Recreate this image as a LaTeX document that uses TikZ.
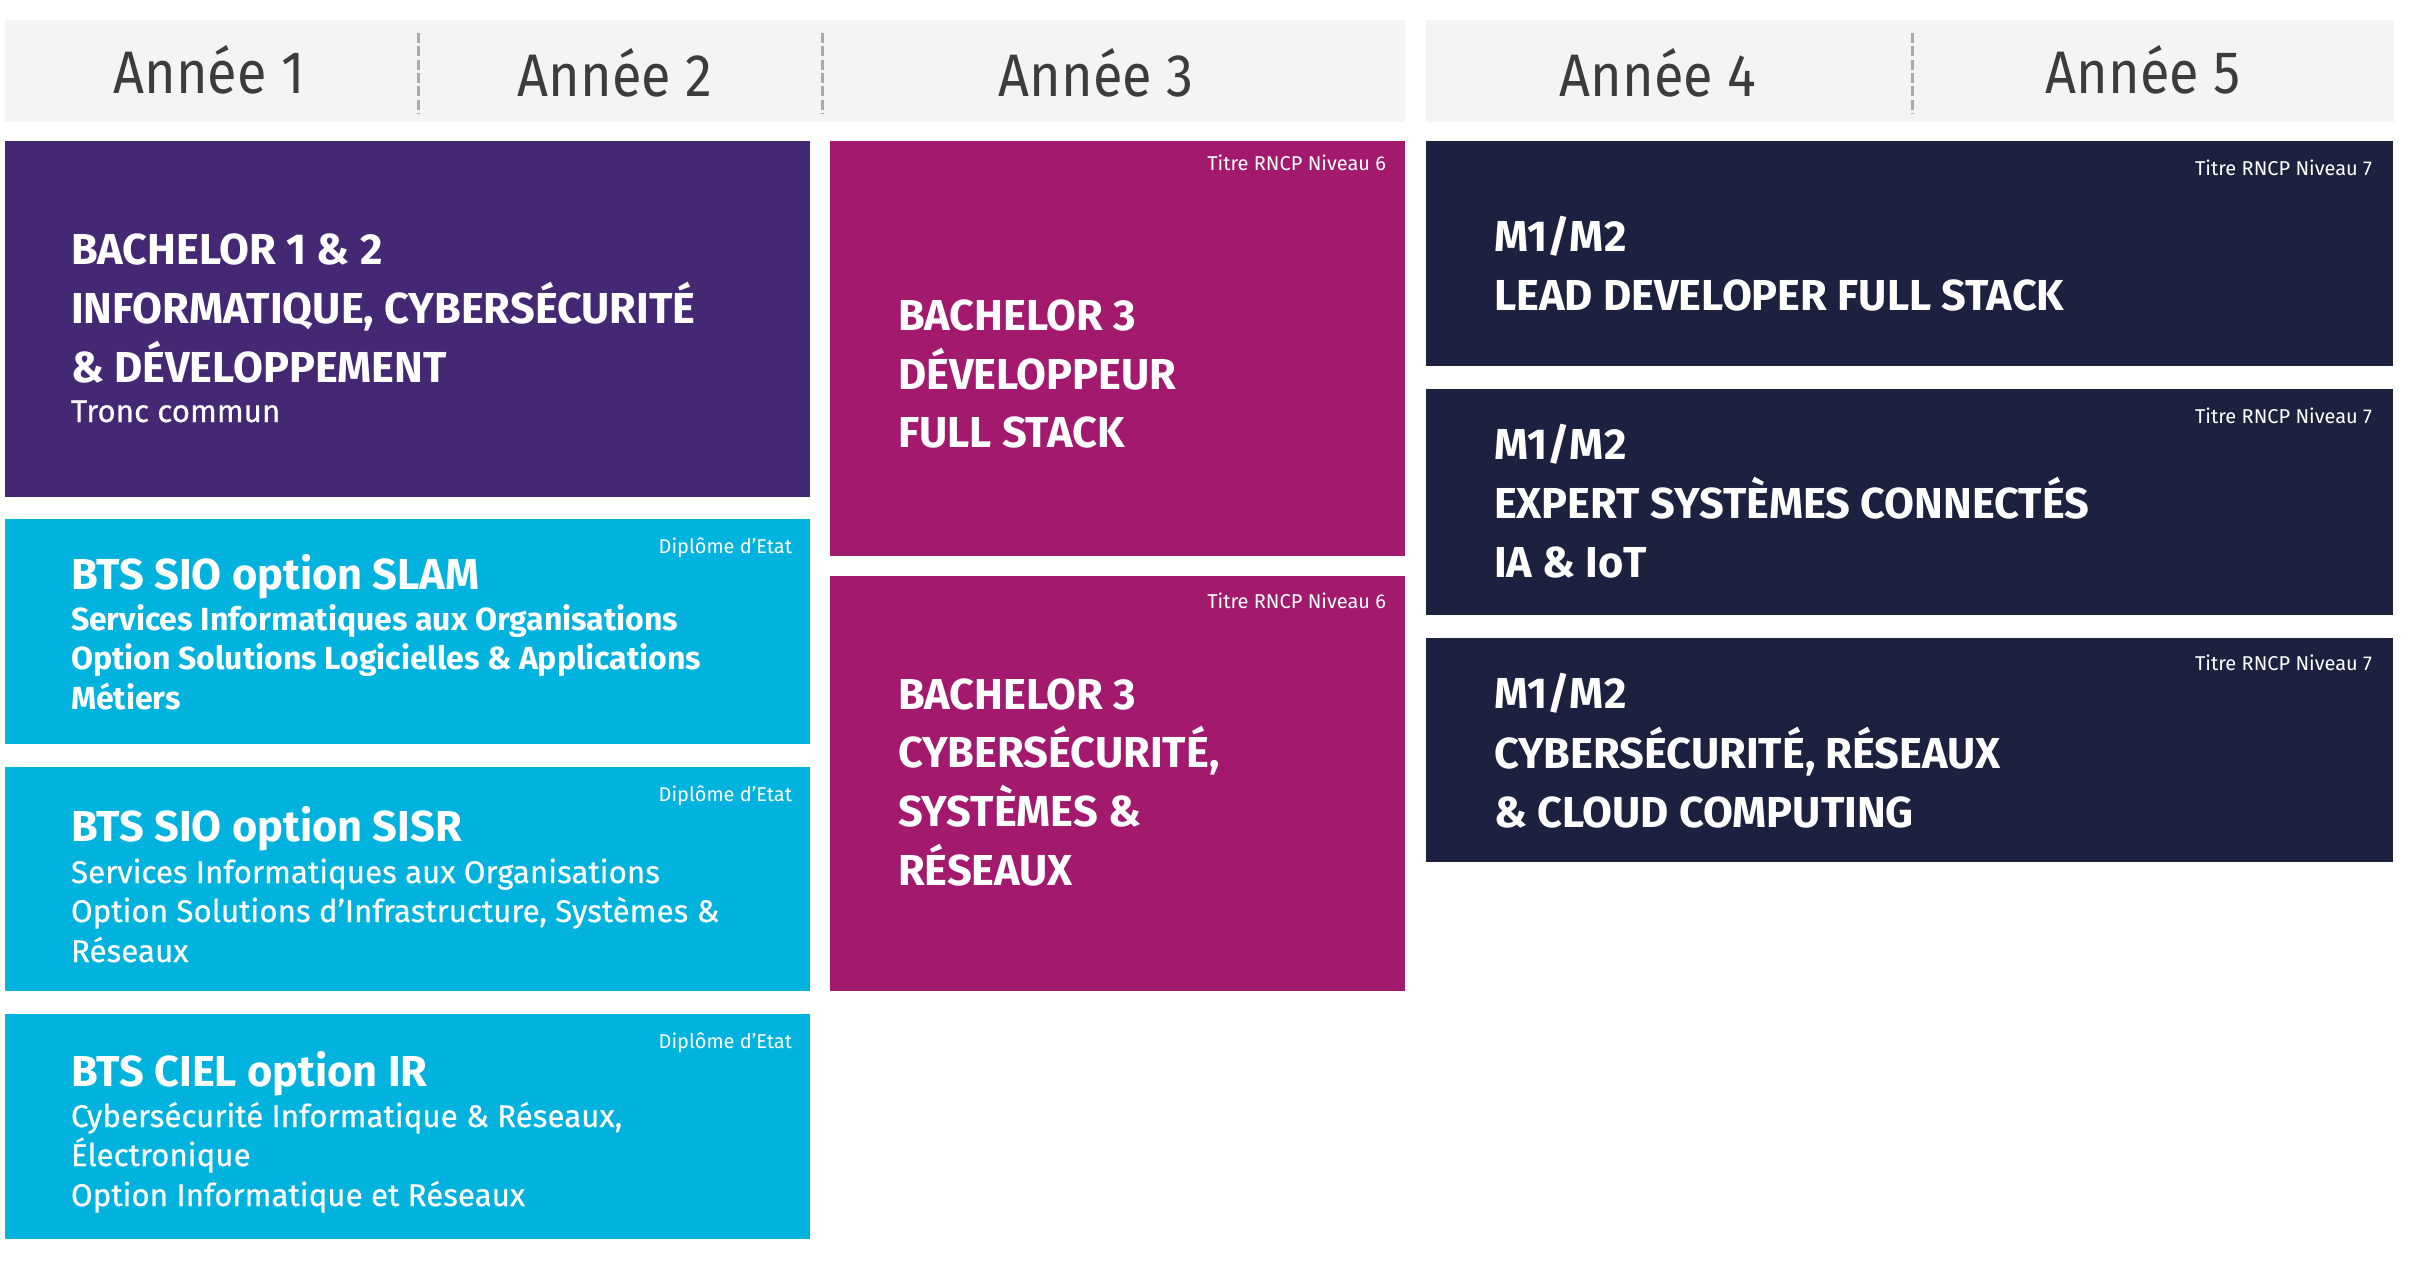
\documentclass[tikz,border=0pt]{standalone}
\usepackage{fontspec}
\setmainfont{Fira Sans}
\newfontfamily\titlef{Fira Sans}
\newfontfamily\headf[FakeStretch=0.9]{Fira Sans}
\newfontfamily\subf{Fira Sans}
\newfontfamily\subm[FakeBold=0.5]{Fira Sans}
\definecolor{headbg}{HTML}{F4F4F4}
\definecolor{headtxt}{HTML}{3C3C3C}
\definecolor{sepgray}{HTML}{A9A9A9}
\definecolor{purp}{HTML}{452874}
\definecolor{cyanb}{HTML}{00B3DE}
\definecolor{magb}{HTML}{A2196D}
\definecolor{navyb}{HTML}{1C2140}
\begin{document}
\begin{tikzpicture}[x=0.3pt,y=-0.3pt,
  ttl/.style={anchor=base west, inner sep=0, outer sep=0, text=white, font=\titlef\bfseries\fontsize{13}{13}\selectfont},
  sub/.style={anchor=base west, inner sep=0, outer sep=0, text=white, font=\subm\fontsize{9.4}{9.4}\selectfont},
  subb/.style={sub, font=\subf\bfseries\fontsize{9.6}{9.6}\selectfont},
  tag/.style={anchor=base east, inner sep=0, outer sep=0, text=white, font=\subf\fontsize{6}{6}\selectfont},
  hd/.style={anchor=base, inner sep=0, outer sep=0, text=headtxt, font=\headf\fontsize{18}{18}\selectfont},
  sep/.style={draw=sepgray, line width=0.9pt, dash pattern=on 3pt off 1pt}
]
\useasboundingbox (0,0) rectangle (2410,1263);
% header bars
\fill[headbg] (5,20) rectangle (1405,122);
\fill[headbg] (1426,20) rectangle (2394,122);
\draw[sep] (418,33) -- (418,114);
\draw[sep] (822,33) -- (822,114);
\draw[sep] (1912,33) -- (1912,114);
\node[hd] (y1) at (209,93) {Année 1};
\node[hd] (y2) at (615,96) {Année 2};
\node[hd] (y3) at (1096,96) {Année 3};
\node[hd] (y4) at (1658,96) {Année 4};
\node[hd] (y5) at (2143,93) {Année 5};
% boxes
\fill[purp] (5,141) rectangle (810,497);
\fill[cyanb] (5,519) rectangle (810,744);
\fill[cyanb] (5,767) rectangle (810,991);
\fill[cyanb] (5,1014) rectangle (810,1239);
\fill[magb] (830,141) rectangle (1405,556);
\fill[magb] (830,576) rectangle (1405,991);
\fill[navyb] (1426,141) rectangle (2393,366);
\fill[navyb] (1426,389) rectangle (2393,615);
\fill[navyb] (1426,638) rectangle (2393,862);
% purple
\node[ttl] (p1) at (71,264) {BACHELOR 1 \& 2};
\node[ttl] (p2) at (71,323) {INFORMATIQUE, CYBERSÉCURITÉ};
\node[ttl] (p3) at (71,382) {\& DÉVELOPPEMENT};
\node[sub] (p4) at (71,422) {Tronc commun};
% SLAM
\node[tag] (s0) at (792,553) {Diplôme d’Etat};
\node[ttl] (s1) at (71,589) {BTS SIO option SLAM};
\node[subb] (s2) at (71,630) {Services Informatiques aux Organisations};
\node[subb] (s3) at (71,669) {Option Solutions Logicielles \& Applications};
\node[subb] (s4) at (71,709) {Métiers};
% SISR
\node[tag] (r0) at (792,801) {Diplôme d’Etat};
\node[ttl] (r1) at (71,841) {BTS SIO option SISR};
\node[sub] (r2) at (71,883) {Services Informatiques aux Organisations};
\node[sub] (r3) at (71,922) {Option Solutions d’Infrastructure, Systèmes \&};
\node[sub] (r4) at (71,962) {Réseaux};
% CIEL
\node[tag] (c0) at (792,1048) {Diplôme d’Etat};
\node[ttl] (c1) at (71,1086) {BTS CIEL option IR};
\node[sub] (c2) at (71,1127) {Cybersécurité Informatique \& Réseaux,};
\node[sub] (c3) at (71,1166) {Électronique};
\node[sub] (c4) at (71,1206) {Option Informatique et Réseaux};
% Bachelor 3 dev
\node[tag] (d0) at (1386,170) {Titre RNCP Niveau 6};
\node[ttl] (d1) at (898,330) {BACHELOR 3};
\node[ttl] (d2) at (898,389) {DÉVELOPPEUR};
\node[ttl] (d3) at (898,447) {FULL STACK};
% Bachelor 3 cyber
\node[tag] (e0) at (1386,608) {Titre RNCP Niveau 6};
\node[ttl] (e1) at (898,709) {BACHELOR 3};
\node[ttl] (e2) at (898,767) {CYBERSÉCURITÉ,};
\node[ttl] (e3) at (898,826) {SYSTÈMES \&};
\node[ttl] (e4) at (898,885) {RÉSEAUX};
% M1/M2 lead
\node[tag] (l0) at (2372,175) {Titre RNCP Niveau 7};
\node[ttl] (l1) at (1494,251) {M1/M2};
\node[ttl] (l2) at (1494,310) {LEAD DEVELOPER FULL STACK};
% M1/M2 expert
\node[tag] (x0) at (2372,423) {Titre RNCP Niveau 7};
\node[ttl] (x1) at (1494,459) {M1/M2};
\node[ttl] (x2) at (1494,518) {EXPERT SYSTÈMES CONNECTÉS};
\node[ttl] (x3) at (1494,577) {IA \& IoT};
% M1/M2 cyber
\node[tag] (m0) at (2372,670) {Titre RNCP Niveau 7};
\node[ttl] (m1) at (1494,708) {M1/M2};
\node[ttl] (m2) at (1494,768) {CYBERSÉCURITÉ, RÉSEAUX};
\node[ttl] (m3) at (1494,827) {\& CLOUD COMPUTING};
\end{tikzpicture}
\end{document}
